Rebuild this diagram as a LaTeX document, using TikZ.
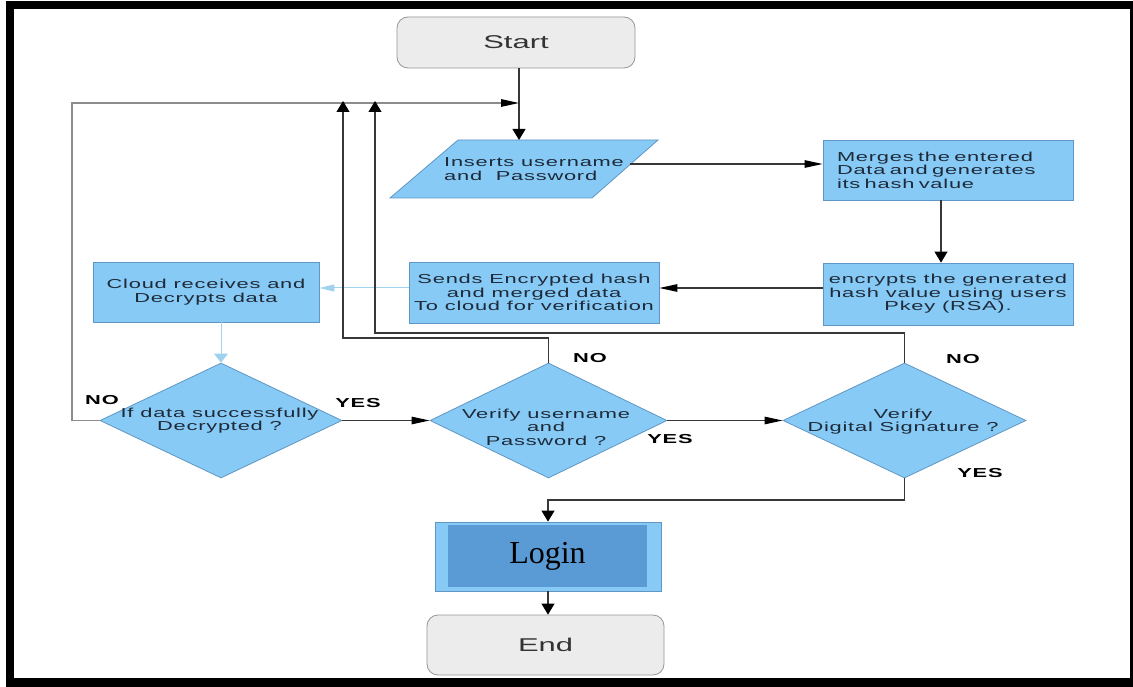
\documentclass[tikz,border=0pt]{standalone}
\usepackage{fontspec}
\usetikzlibrary{shapes.geometric,arrows.meta}
\newfontfamily\flowfont[FakeStretch=1.68,LetterSpace=6]{Liberation Sans}
\newfontfamily\termfont[FakeStretch=1.67]{Liberation Sans}
\newfontfamily\loginfont{Liberation Serif}
\definecolor{boxfill}{RGB}{135,202,246}
\definecolor{boxline}{RGB}{95,150,195}
\definecolor{termfill}{RGB}{236,236,236}
\definecolor{termline}{RGB}{150,150,150}
\definecolor{loginfill}{RGB}{91,155,213}
\definecolor{txt}{RGB}{30,42,56}
\definecolor{conn}{RGB}{55,55,55}
\definecolor{loopgray}{RGB}{140,140,140}
\definecolor{skyline}{RGB}{160,210,240}
\begin{document}
\begin{tikzpicture}[x=1pt,y=-1pt,
  term/.style={draw=termline, fill=termfill, rounded corners=11pt, line width=0.8pt,
    minimum width=238pt, minimum height=51pt, inner sep=0pt,
    font=\termfont\fontsize{18.5}{20}\selectfont, text=black!80},
  box/.style={draw=boxline, fill=boxfill, line width=0.8pt, inner sep=0pt,
    font=\flowfont\fontsize{13}{13.5}\selectfont, text=txt, align=center},
  dia/.style={diamond, draw=boxline, fill=boxfill, line width=0.8pt, inner sep=0pt,
    minimum height=115pt},
  dtext/.style={inner sep=0pt, font=\flowfont\fontsize{13}{13.5}\selectfont,
    text=txt, align=center},
  lab/.style={inner sep=0pt, font=\flowfont\bfseries\fontsize{13}{14}\selectfont},
  conn/.style={draw=conn, line width=1.1pt},
  loopline/.style={draw=loopgray, line width=1.3pt},
  sky/.style={draw=skyline, line width=1pt},
  harr/.style={-{Triangle[length=18pt,width=7.5pt,color=black]}},
  varr/.style={-{Triangle[length=11pt,width=13pt,color=black]}},
  harrsky/.style={-{Triangle[length=15pt,width=7pt,color=skyline]}},
  varrsky/.style={-{Triangle[length=9pt,width=14pt,color=skyline]}}
]
\useasboundingbox (0,0) rectangle (1133,687);

% outer frame
\fill[black] (6,1) rectangle (1132,9);
\fill[black] (6,1) rectangle (14,687);
\fill[black] (6,678) rectangle (1132,687);
\fill[black] (1130,1) rectangle (1133,687);

% terminals
\node[term] (start) at (516,42.5) {Start};
\node[term, minimum width=237pt, minimum height=60pt] (end) at (545.5,645) {End};

% input parallelogram
\coordinate (insc) at (524,169);
\draw[draw=boxline, fill=boxfill, line width=0.8pt]
  ([shift={(-134,29)}]insc) -- ([shift={(68,29)}]insc) --
  ([shift={(134,-29)}]insc) -- ([shift={(-66,-29)}]insc) -- cycle;
\node[dtext, align=left] (ins) at (534,169) {Inserts username\\and~~Password};
\coordinate (inst) at (519,140);
\coordinate (insr) at (630,164);
\coordinate (join) at (519,103);

% process boxes
\node[box, minimum width=250pt, minimum height=60pt, text width=222pt, align=left]
  (mrg) at (948,170) {Merges the entered\\Data and generates\\its hash value};
\node[box, minimum width=250pt, minimum height=62pt]
  (enc) at (948,294) {encrypts the generated\\hash value using users\\Pkey (RSA).};
\node[box, minimum width=250pt, minimum height=61pt]
  (snd) at (534,292.5) {Sends Encrypted hash\\and merged data\\To cloud for verification};
\node[box, minimum width=226pt, minimum height=60pt]
  (cloud) at (206,292) {Cloud receives and\\Decrypts data};

% decisions
\node[dia, minimum width=242pt] (d1) at (221,420.5) {};
\node[dtext] (d1t) at (219.5,420.5) {If data successfully\\Decrypted ?};
\node[dia, minimum width=237pt] (d2) at (548.5,420.5) {};
\node[dtext] (d2t) at (546,427) {Verify username\\and\\Password ?};
\node[dia, minimum width=243pt] (d3) at (904.5,420.5) {};
\node[dtext] (d3t) at (903,421.5) {Verify\\Digital Signature ?};

% login
\node[draw=boxline, fill=boxfill, line width=0.8pt, minimum width=226pt, minimum height=69pt,
  inner sep=0pt] (login) at (548,556.5) {};
\node[fill=loginfill, minimum width=199pt, minimum height=62pt, inner sep=0pt,
  font=\loginfont\fontsize{32}{34}\selectfont] (logint) at (547.5,556) {Login};

% branch labels
\node[lab] (no1) at (102,400) {NO};
\node[lab] (yes1) at (358,403) {YES};
\node[lab] (no2) at (590,358) {NO};
\node[lab] (yes2) at (670,439) {YES};
\node[lab] (no3) at (963,359) {NO};
\node[lab] (yes3) at (980,473) {YES};

% connectors
\draw[conn, varr] (start.south -| inst) -- (inst);
\draw[conn, harr] (insr) -- (insr -| mrg.west);
\draw[conn, varr] ([xshift=-7pt]mrg.south) -- ([xshift=-7pt]enc.north);
\draw[conn, harr] (enc.west |- 0,288) -- (snd.east |- 0,288);
\draw[sky, harrsky] (snd.west |- 0,288) -- (cloud.east |- 0,288);
\draw[sky, varrsky] (d1.north |- cloud.south) -- (d1.north);
\draw[conn, harr] (d1.east) -- (d2.west);
\draw[conn, harr] (d2.east) -- (d3.west);
\draw[conn, varr] (d3.south) |- (login.north |- 0,500) -- (login.north);
\draw[conn, varr] (login.south) -- (login.south |- end.north);

% feedback paths
\draw[loopline, harr] (d1.west) -| (72,103) -- (join);
\draw[conn, varr] (d2.north) |- (343,338) -- (343,101);
\draw[conn, varr] (d3.north) |- (375,333) -- (375,101);
\end{tikzpicture}
\end{document}
